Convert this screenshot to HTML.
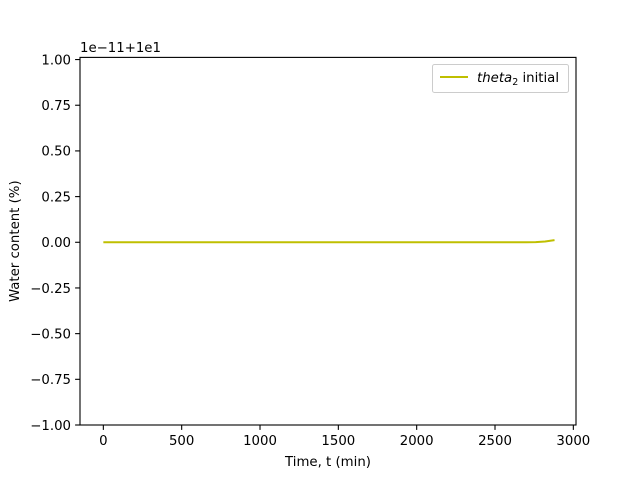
<!DOCTYPE html>
<html><head><meta charset="utf-8"><style>
body{margin:0;background:#fff}
svg{display:block;font-family:"DejaVu Sans","Liberation Sans",sans-serif}
</style></head><body>
<svg id="chart" width="640" height="478" viewBox="0 0 640 478" xmlns="http://www.w3.org/2000/svg">
<rect width="640" height="478" fill="#fff"/>
<g id="plot"></g>
</svg>
<script>
const times = [0, 500, 1000, 1500, 2000, 2500, 2700, 2760, 2820, 2880];
const theta2Initial = [0, 0, 0, 0, 0, 0, 0, 0.001, 0.004, 0.012];
const xTicks = [0, 500, 1000, 1500, 2000, 2500, 3000];
const yTicks = [-1.0, -0.75, -0.5, -0.25, 0.0, 0.25, 0.5, 0.75, 1.0];

const L=80,R=576,T=57.4,B=425;
const xMin=-149,xMax=3017,yMin=-1,yMax=1.0118;
const FS=13.3;
const sx=v=>L+(v-xMin)/(xMax-xMin)*(R-L);
const sy=v=>B-(v-yMin)/(yMax-yMin)*(B-T);
const NS="http://www.w3.org/2000/svg";
const g=document.getElementById('plot');
function mk(tag,attrs,text){const e=document.createElementNS(NS,tag);for(const k in attrs)e.setAttribute(k,attrs[k]);if(text!==undefined)e.textContent=text;g.appendChild(e);return e;}

xTicks.forEach(v=>{
  const t=mk('line',{x1:sx(v),x2:sx(v),y1:B,y2:B+4.9,stroke:'#000','stroke-width':1.1});
  
  
  const l=mk('text',{x:sx(v),y:B+20,'font-size':FS,'text-anchor':'middle'},String(v));
  
  
});
yTicks.forEach(v=>{
  const t=mk('line',{x1:L-4.9,x2:L,y1:sy(v),y2:sy(v),stroke:'#000','stroke-width':1.1});
  
  
  const l=mk('text',{x:L-9,y:sy(v)+4.8,'font-size':FS,'text-anchor':'end'},(v<0?'\u2212':'')+Math.abs(v).toFixed(2));
  
  
});

const line=mk('polyline',{points:times.map((t,i)=>sx(t)+','+sy(theta2Initial[i])).join(' '),fill:'none',stroke:'#bfbf00','stroke-width':2});



const frame=mk('rect',{x:L,y:T,width:R-L,height:B-T,fill:'none',stroke:'#000','stroke-width':1.1});



const off=mk('text',{x:80,y:52,'font-size':FS},'1e\u221211+1e1');



const xt=mk('text',{x:(L+R)/2,y:466,'font-size':FS,'text-anchor':'middle'},'Time, t (min)');


const yt=mk('text',{x:19,y:(T+B)/2,'font-size':FS,'text-anchor':'middle',transform:'rotate(-90 19 '+((T+B)/2)+')'},'Water content (%)');



const lg=mk('rect',{x:432.5,y:64.5,width:136,height:28,fill:'#fff',stroke:'#ccc','stroke-width':1,rx:2});


const ls=mk('line',{x1:440,x2:468,y1:77,y2:77,stroke:'#bfbf00','stroke-width':2});


const lt=mk('text',{x:477,y:82,'font-size':FS});


lt.innerHTML='<tspan font-style="italic">theta</tspan><tspan font-size="9.5" dy="3">2</tspan><tspan dy="-3"> initial</tspan>';
</script>
</body></html>
